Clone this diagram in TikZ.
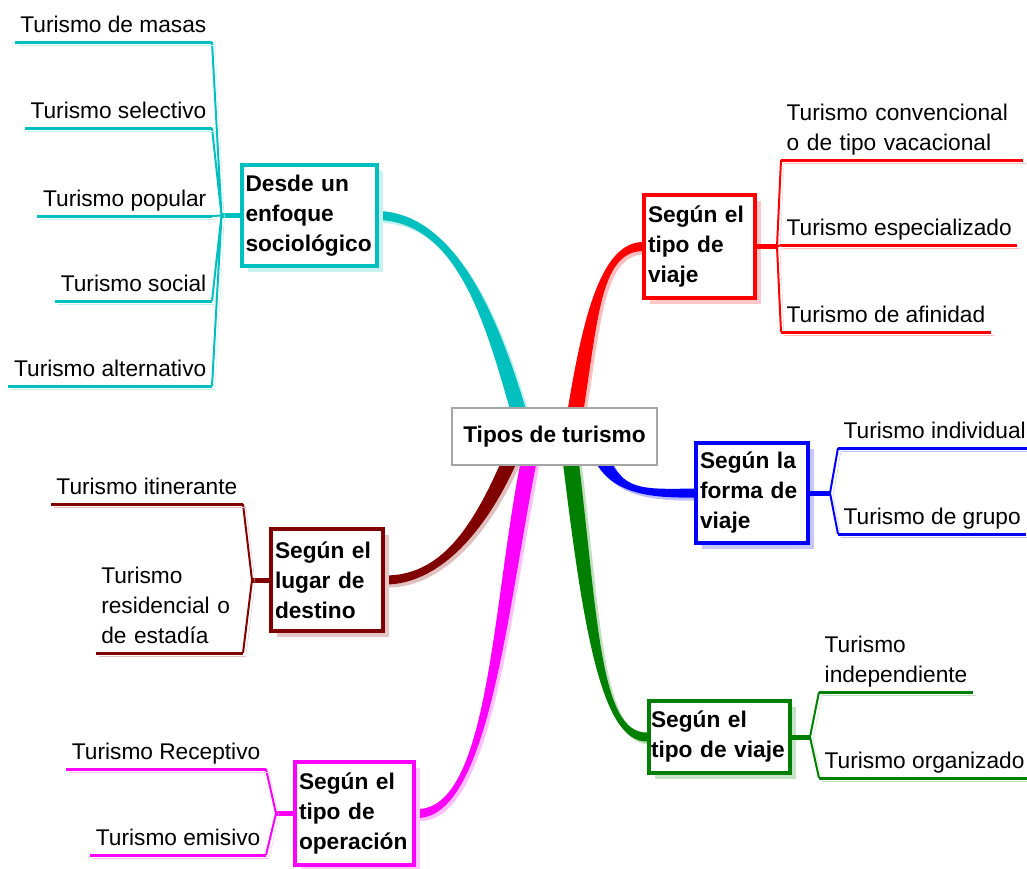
\documentclass[tikz,border=0pt]{standalone}
\usepackage{fontspec}
\setmainfont{Liberation Sans}
\usetikzlibrary{backgrounds,shadows}

\definecolor{cSoc}{RGB}{0,191,191}
\definecolor{cTipo}{RGB}{255,0,0}
\definecolor{cForma}{RGB}{0,0,255}
\definecolor{cOrg}{RGB}{0,128,0}
\definecolor{cLugar}{RGB}{128,0,0}
\definecolor{cOper}{RGB}{255,0,255}

\newcommand\mapfont{\fontsize{22.7}{30}\selectfont}
% tapered branch: colour, start, control near start, control near end, end, end offsets
\newcommand\limb[7]{%
\fill[#1,preaction={fill=#1!25,transform canvas={shift={(3pt,-3pt)}}}]
 ([xshift=8pt]#2) .. controls ([xshift=8pt]#3) and ([yshift=#6]#4) .. ([yshift=#6]#5)
 -- ([yshift=#7]#5) .. controls ([yshift=#7]#4) and ([xshift=-8pt]#3) .. ([xshift=-8pt]#2) -- cycle;}

\begin{document}
\begin{tikzpicture}[x=1pt,y=-1pt,
 hub/.style={draw=gray!70,line width=1.5pt,fill=white,font=\mapfont\bfseries,minimum width=205pt,minimum height=57pt},
 topic/.style={draw=#1,line width=4pt,fill=white,font=\mapfont\bfseries,align=left,inner xsep=4pt,
  drop shadow={shadow xshift=6pt,shadow yshift=-6pt,fill=#1!22,opacity=1}},
 leaf/.style={font=\mapfont,inner xsep=5.5pt,inner ysep=4.5pt,text depth=5pt},
 leafstack/.style={font=\mapfont,inner xsep=5.5pt,inner ysep=4.5pt,align=left},
 leafline/.style={draw=#1,line width=3pt,preaction={draw=#1!25,transform canvas={shift={(3pt,-3pt)}}}},
 twig/.style={draw=#1,line width=2pt,preaction={draw=#1!25,transform canvas={shift={(3pt,-3pt)}}}},
 stub/.style={draw=#1,line width=5pt}]
\useasboundingbox (0,0) rectangle (1027,868);

\node[hub] (hub) at (554.5,436.5) {Tipos de turismo};

\node[topic=cSoc,text width=127pt,minimum height=101pt] (soc) at (309,215.5) {Desde un\\enfoque\\sociológico};
\node[topic=cTipo,text width=103pt,minimum height=103pt] (tipo) at (699.5,246.5) {Según el\\tipo de\\viaje};
\node[topic=cForma,text width=104pt,minimum height=100pt] (forma) at (752,493) {Según la\\forma de\\viaje};
\node[topic=cOrg,text width=137pt,inner xsep=2pt,minimum height=72pt] (org) at (719.5,737) {Según el\\tipo~de~viaje};
\node[topic=cLugar,text width=104pt,minimum height=102pt] (lugar) at (327,580) {Según el\\lugar de\\destino};
\node[topic=cOper,text width=111pt,minimum height=103pt] (oper) at (354.5,813.5) {Según el\\tipo de\\operación};

\coordinate (jsoc) at ([xshift=-18pt]soc.west);
\coordinate (jtipo) at ([xshift=20pt]tipo.east);
\coordinate (jforma) at ([xshift=20pt]forma.east);
\coordinate (jorg) at ([xshift=18pt]org.east);
\coordinate (jlugar) at ([xshift=-17pt]lugar.west);
\coordinate (joper) at ([xshift=-17pt]oper.west);

\node[leaf,anchor=south east] (masas) at (212,42) {Turismo de masas};
\node[leaf,anchor=south east] (selectivo) at (212,128) {Turismo selectivo};
\node[leaf,anchor=south east] (popular) at (212,216) {Turismo popular};
\node[leaf,anchor=south east] (social) at (212,301) {Turismo social};
\node[leaf,anchor=south east] (alternativo) at (212,386) {Turismo alternativo};

\node[leafstack,anchor=south west,text width=231pt] (convencional) at (781,160) {Turismo convencional\\o de tipo vacacional};
\node[leaf,anchor=south west] (especializado) at (781,245) {Turismo especializado};
\node[leaf,anchor=south west] (afinidad) at (781,332) {Turismo de afinidad};

\node[leaf,anchor=south west] (individual) at (838,448) {Turismo individual};
\node[leaf,anchor=south west] (grupo) at (838,534) {Turismo de grupo};

\node[leafstack,anchor=south west] (independiente) at (819,692) {Turismo\\independiente};
\node[leaf,anchor=south west] (organizado) at (819,778) {Turismo organizado};

\node[leaf,anchor=south east] (itinerante) at (243,504) {Turismo itinerante};
\node[leafstack,anchor=south east,text width=136pt,inner ysep=9.5pt] (residencial) at (243,653) {Turismo\\residencial o\\de estadía};

\node[leaf,anchor=south east] (receptivo) at (266,769) {Turismo Receptivo};
\node[leaf,anchor=south east] (emisivo) at (266,855) {Turismo emisivo};

\begin{scope}[on background layer]
\limb{cSoc}{521,420}{495,330}{460,218}{soc.east}{4.5pt}{-4.5pt}
\limb{cTipo}{574,420}{590,320}{600,248}{tipo.west}{-4.5pt}{4.5pt}
\limb{cForma}{600,455}{615,490}{640,494}{forma.west}{4.5pt}{-4.5pt}
\limb{cOrg}{570,455}{590,620}{600,738}{org.west}{4.5pt}{-4.5pt}
\limb{cLugar}{512,455}{480,530}{440,580}{lugar.east}{-4.5pt}{4.5pt}
\limb{cOper}{530,455}{500,600}{490,816}{oper.east}{-4.5pt}{4.5pt}
\end{scope}

% sociological
\draw[stub=cSoc] (soc.west) -- (jsoc);
\draw[twig=cSoc] (jsoc) -- (masas.south east) (jsoc) -- (selectivo.south east) (jsoc) -- (popular.south east)
 (jsoc) -- (social.south east) (jsoc) -- (alternativo.south east);
\draw[leafline=cSoc] (masas.south west) -- (masas.south east);
\draw[leafline=cSoc] (selectivo.south west) -- (selectivo.south east);
\draw[leafline=cSoc] (popular.south west) -- (popular.south east);
\draw[leafline=cSoc] (social.south west) -- (social.south east);
\draw[leafline=cSoc] (alternativo.south west) -- (alternativo.south east);

% trip type
\draw[stub=cTipo] (tipo.east) -- (jtipo);
\draw[twig=cTipo] (jtipo) -- (convencional.south west) (jtipo) -- (especializado.south west) (jtipo) -- (afinidad.south west);
\draw[leafline=cTipo] (convencional.south west) -- (convencional.south east);
\draw[leafline=cTipo] (especializado.south west) -- (especializado.south east);
\draw[leafline=cTipo] (afinidad.south west) -- (afinidad.south east);

% form
\draw[stub=cForma] (forma.east) -- (jforma);
\draw[twig=cForma] (jforma) -- (individual.south west) (jforma) -- (grupo.south west);
\draw[leafline=cForma] (individual.south west) -- (individual.south east);
\draw[leafline=cForma] (grupo.south west) -- (grupo.south east);

% organisation
\draw[stub=cOrg] (org.east) -- (jorg);
\draw[twig=cOrg] (jorg) -- (independiente.south west) (jorg) -- (organizado.south west);
\draw[leafline=cOrg] (independiente.south west) -- (independiente.south east);
\draw[leafline=cOrg] (organizado.south west) -- (organizado.south east);

% destination
\draw[stub=cLugar] (lugar.west) -- (jlugar);
\draw[twig=cLugar] (jlugar) -- (itinerante.south east) (jlugar) -- (residencial.south east);
\draw[leafline=cLugar] (itinerante.south west) -- (itinerante.south east);
\draw[leafline=cLugar] (residencial.south west) -- (residencial.south east);

% operation
\draw[stub=cOper] (oper.west) -- (joper);
\draw[twig=cOper] (joper) -- (receptivo.south east) (joper) -- (emisivo.south east);
\draw[leafline=cOper] (receptivo.south west) -- (receptivo.south east);
\draw[leafline=cOper] (emisivo.south west) -- (emisivo.south east);
\end{tikzpicture}
\end{document}
